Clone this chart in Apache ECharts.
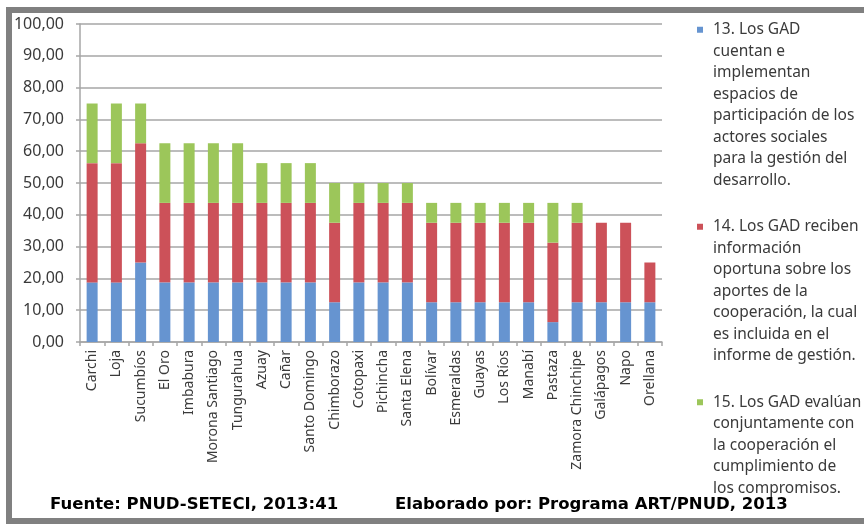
<!DOCTYPE html>
<html>
<head>
<meta charset="utf-8">
<script src="https://cdn.jsdelivr.net/npm/echarts@6/dist/echarts.min.js"></script>
<style>
	html, body { margin: 0; padding: 0; background: #fff; }
	#chart { width: 864px; height: 525px; }
</style>
</head>
<body>
<div id="chart"></div>
<script>
// provinces, sorted as in the source figure
const categories = [
	'Carchi', 'Loja', 'Sucumbíos', 'El Oro', 'Imbabura', 'Morona Santiago', 'Tungurahua', 'Azuay',
	'Cañar', 'Santo Domingo', 'Chimborazo', 'Cotopaxi', 'Pichincha', 'Santa Elena', 'Bolívar',
	'Esmeraldas', 'Guayas', 'Los Ríos', 'Manabí', 'Pastaza', 'Zamora Chinchipe', 'Galápagos', 'Napo', 'Orellana'
]

// stacked segment values (%)
const q13 = [18.75, 18.75, 25, 18.75, 18.75, 18.75, 18.75, 18.75, 18.75, 18.75, 12.5, 18.75, 18.75, 18.75, 12.5, 12.5, 12.5, 12.5, 12.5, 6.25, 12.5, 12.5, 12.5, 12.5]
const q14 = [37.5, 37.5, 37.5, 25, 25, 25, 25, 25, 25, 25, 25, 25, 25, 25, 25, 25, 25, 25, 25, 25, 25, 25, 25, 12.5]
const q15 = [18.75, 18.75, 12.5, 18.75, 18.75, 18.75, 18.75, 12.5, 12.5, 12.5, 12.5, 6.25, 6.25, 6.25, 6.25, 6.25, 6.25, 6.25, 6.25, 12.5, 6.25, 0, 0, 0]

const yTicks = [0, 10, 20, 30, 40, 50, 60, 70, 80, 90, 100]

const legendLines = [
	['13. Los GAD', 'cuentan e', 'implementan', 'espacios de', 'participación de los', 'actores sociales', 'para la gestión del', 'desarrollo.'],
	['14. Los GAD reciben', 'información', 'oportuna sobre los', 'aportes de la', 'cooperación, la cual', 'es incluida en el', 'informe de gestión.'],
	['15. Los GAD evalúan', 'conjuntamente con', 'la cooperación el', 'cumplimiento de', 'los compromisos.']
]
const seriesNames = legendLines.map((l) => l.join(' '))
const colors = ['#6694d0', '#cc5159', '#9cc65a']

const chart = echarts.init(document.getElementById('chart'), null, { renderer: 'canvas' })

const font = '"Noto Sans", sans-serif'
const textColor = '#3a3a3a'
const gridColor = '#a6a6a6'

const rich = {
	gap: { width: 10 },
	ind: { width: 16 }
}
colors.forEach((c, i) => {
	rich['sq' + i] = { width: 6, height: 6, backgroundColor: c }
})

chart.setOption({
	animation: false,
	color: colors,
	grid: { left: 80, right: 202, top: 24, bottom: 183 },
	legend: {
		orient: 'vertical',
		left: 692,
		top: 19,
		padding: 0,
		icon: 'none',
		itemWidth: 0,
		itemHeight: 6,
		itemGap: 25,
		selectedMode: false,
		data: seriesNames,
		textStyle: { fontFamily: font, fontSize: 15.5, color: textColor, lineHeight: 21.5, rich },
		formatter: function (name) {
			const i = seriesNames.indexOf(name)
			const lines = legendLines[i]
			return '{sq' + i + '|}{gap|}' + lines[0] + '\n{ind|}' + lines.slice(1).join('\n{ind|}')
		}
	},
	xAxis: {
		type: 'category',
		data: categories,
		axisLine: { lineStyle: { color: gridColor, width: 1.5 } },
		axisTick: { show: true, length: 4, lineStyle: { color: gridColor, width: 1.5 } },
		axisLabel: { rotate: 90, margin: 8, interval: 0, fontFamily: font, fontSize: 14, color: textColor }
	},
	yAxis: {
		type: 'value',
		min: yTicks[0],
		max: yTicks[yTicks.length - 1],
		interval: yTicks[1] - yTicks[0],
		axisLine: { show: true, lineStyle: { color: gridColor, width: 1.5 } },
		axisTick: { show: true, length: 4, lineStyle: { color: gridColor, width: 1.5 } },
		axisLabel: {
			margin: 16,
			fontFamily: font,
			fontSize: 16,
			color: textColor,
			formatter: (v) => v.toFixed(2).replace('.', ',')
		},
		splitLine: { lineStyle: { color: gridColor, width: 1.5 } }
	},
	series: [q13, q14, q15].map((d, i) => ({
		name: seriesNames[i],
		type: 'bar',
		stack: 'total',
		barWidth: 11,
		data: d
	})),
	graphic: [
		{
			type: 'rect',
			shape: { x: 9, y: 10, width: 880, height: 511 },
			style: { fill: 'none', stroke: '#808080', lineWidth: 6 },
			silent: true
		},
		{
			type: 'text',
			left: 50,
			top: 496,
			style: { text: 'Fuente: PNUD-SETECI, 2013:41', fontFamily: '"DejaVu Sans", sans-serif', fontWeight: 'bold', fontSize: 16.5, fill: '#000' }
		},
		{
			type: 'text',
			left: 395,
			top: 496,
			style: { text: 'Elaborado por: Programa ART/PNUD, 2013', fontFamily: '"DejaVu Sans", sans-serif', fontWeight: 'bold', fontSize: 16.5, fill: '#000' }
		}
	]
})
</script>
</body>
</html>
